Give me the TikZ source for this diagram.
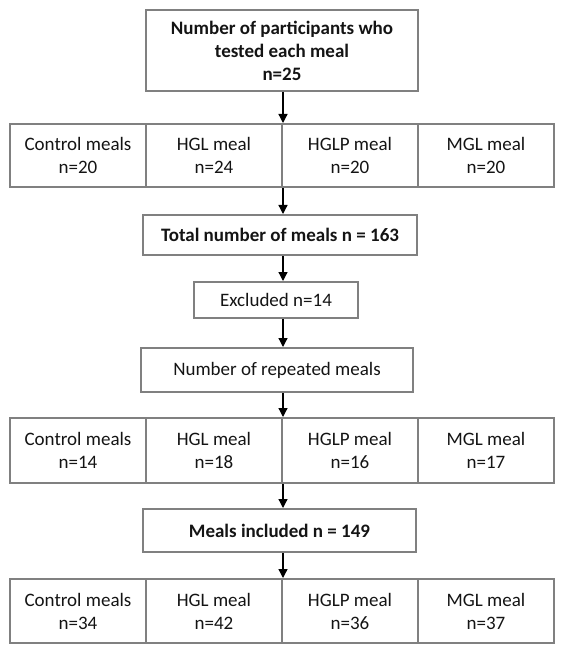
\documentclass[tikz,border=0pt]{standalone}
\usepackage{fontspec}
\setmainfont{Carlito}
\usetikzlibrary{arrows.meta}
\definecolor{boxgrey}{RGB}{128,128,128}
\definecolor{txt}{RGB}{20,20,20}
\begin{document}
\begin{tikzpicture}[x=1pt,y=-1pt,
  box/.style={draw=boxgrey, line width=2pt, rectangle, inner sep=0pt, align=center,
    font=\fontsize{19}{23}\selectfont, text=txt},
  cell/.style={box, minimum width=136pt, minimum height=63pt},
  arr/.style={draw=black, line width=1.3pt, -{Triangle[length=9pt,width=9pt]}}]
\useasboundingbox (0,0) rectangle (563,652);
\coordinate (ax) at (283,0);

\node[box, minimum width=272pt, minimum height=81pt] (top) at (282,50.5)
  {\bfseries Number of participants who\\\bfseries tested each meal\\\bfseries n=25};

\node[cell] (a1) at (78,155.5) {Control meals\\n=20};
\node[cell] (a2) at (214,155.5) {HGL meal\\n=24};
\node[cell] (a3) at (350,155.5) {HGLP meal\\n=20};
\node[cell] (a4) at (486,155.5) {MGL meal\\n=20};

\node[box, minimum width=274pt, minimum height=40pt] (total) at (280,235)
  {\bfseries Total number of meals n = 163};
\node[box, minimum width=164pt, minimum height=36pt] (excl) at (276,300) {Excluded n=14};
\node[box, minimum width=272pt, minimum height=44pt] (rep) at (277,370) {Number of repeated meals};

\node[cell, minimum height=65pt] (b1) at (78,450.5) {Control meals\\n=14};
\node[cell, minimum height=65pt] (b2) at (214,450.5) {HGL meal\\n=18};
\node[cell, minimum height=65pt] (b3) at (350,450.5) {HGLP meal\\n=16};
\node[cell, minimum height=65pt] (b4) at (486,450.5) {MGL meal\\n=17};

\node[box, minimum width=273pt, minimum height=43pt] (incl) at (279.5,530.5)
  {\bfseries Meals included n = 149};

\node[cell, minimum height=64pt] (c1) at (78,611) {Control meals\\n=34};
\node[cell, minimum height=64pt] (c2) at (214,611) {HGL meal\\n=42};
\node[cell, minimum height=64pt] (c3) at (350,611) {HGLP meal\\n=36};
\node[cell, minimum height=64pt] (c4) at (486,611) {MGL meal\\n=37};

\draw[arr] (top.south -| ax) -- (a3.north -| ax);
\draw[arr] (a3.south -| ax) -- (total.north -| ax);
\draw[arr] (total.south -| ax) -- (excl.north -| ax);
\draw[arr] (excl.south -| ax) -- (rep.north -| ax);
\draw[arr] (rep.south -| ax) -- (b3.north -| ax);
\draw[arr] (b3.south -| ax) -- (incl.north -| ax);
\draw[arr] (incl.south -| ax) -- (c3.north -| ax);
\end{tikzpicture}
\end{document}
